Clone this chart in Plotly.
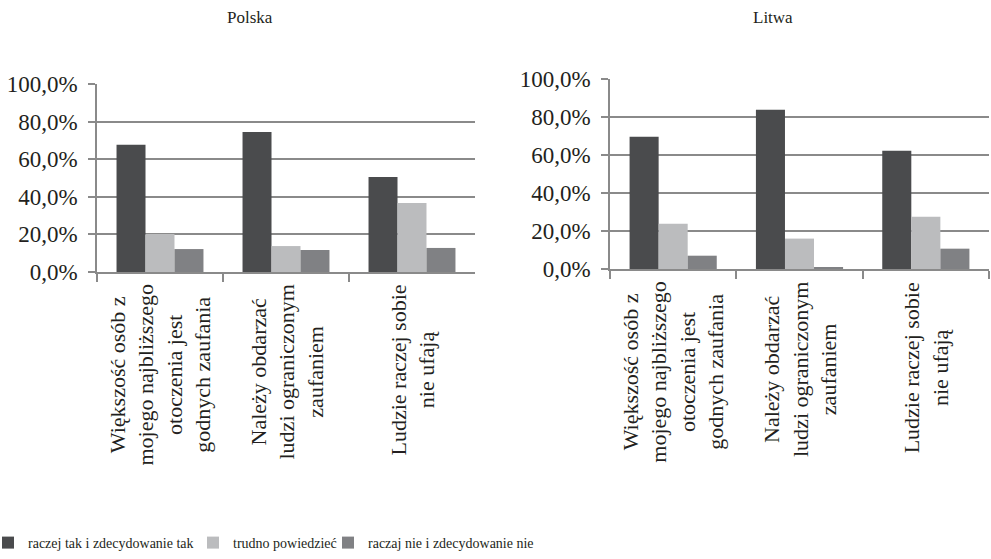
"""
Zaufanie do ludzi - Polska i Litwa
"""

import plotly.graph_objects as go

categories = [
    "Większość osób z<br>mojego najbliższego<br>otoczenia jest<br>godnych zaufania",
    "Należy obdarzać<br>ludzi ograniczonym<br>zaufaniem",
    "Ludzie raczej sobie<br>nie ufają",
]
series_names = [
    "raczej tak i zdecydowanie tak",
    "trudno powiedzieć",
    "raczaj nie i zdecydowanie nie",
]
colors = ["#4a4b4d", "#bbbcbe", "#808184"]

polska_tak = [0.677, 0.745, 0.505]
polska_trudno = [0.202, 0.138, 0.367]
polska_nie = [0.122, 0.117, 0.128]

litwa_tak = [0.696, 0.838, 0.623]
litwa_trudno = [0.238, 0.160, 0.275]
litwa_nie = [0.070, 0.007, 0.107]

W, H = 991, 559
FONT = "'Liberation Serif', 'Times New Roman', 'DejaVu Serif', serif"
TXT = "#231f20"

fig = go.Figure()

polska = [polska_tak, polska_trudno, polska_nie]
litwa = [litwa_tak, litwa_trudno, litwa_nie]
legends = ["legend", "legend2", "legend3"]

for i, name in enumerate(series_names):
    fig.add_trace(go.Bar(
        x=categories, y=polska[i], name=name, marker_color=colors[i],
        marker_line_width=0, xaxis="x", yaxis="y", legend=legends[i],
    ))
    fig.add_trace(go.Bar(
        x=categories, y=litwa[i], name=name, marker_color=colors[i],
        marker_line_width=0, xaxis="x2", yaxis="y2", showlegend=False,
    ))

xcommon = dict(
    type="category", showline=True, linecolor="#8a8a8a", linewidth=1.5,
    ticks="outside", tickson="boundaries", ticklen=8, tickcolor="#8a8a8a",
    tickwidth=1.5, showgrid=False, showticklabels=False,
)
ycommon = dict(
    range=[0, 1], dtick=0.2, tickformat=".1%", showline=True,
    linecolor="#8a8a8a", linewidth=1.5, ticks="outside", ticklen=7,
    tickcolor="#8a8a8a", tickwidth=1.5, showgrid=True, gridcolor="#8a8a8a",
    gridwidth=1.5, zeroline=False, ticklabelstandoff=6,
    tickfont=dict(family=FONT, size=23, color=TXT),
)

fig.update_layout(
    width=W, height=H,
    margin=dict(l=0, r=0, t=0, b=0, autoexpand=False),
    paper_bgcolor="white", plot_bgcolor="white",
    separators=", ",
    barmode="group", bargap=0.31, bargroupgap=0,
    font=dict(family=FONT, color=TXT),
    xaxis=dict(domain=[97 / W, 475 / W], anchor="y", **xcommon),
    yaxis=dict(domain=[1 - 272 / H, 1 - 84 / H], anchor="x", **ycommon),
    xaxis2=dict(domain=[610 / W, 989 / W], anchor="y2", **xcommon),
    yaxis2=dict(domain=[1 - 269 / H, 1 - 79 / H], anchor="x2", **ycommon),
)

# category labels: rotated, lines centred like in the original
for xref, top in [("x", 283), ("x2", 280)]:
    for cat in categories:
        fig.add_annotation(
            text=cat, x=cat, xref=xref, y=1 - top / H, yref="paper",
            yanchor="top", xanchor="center", textangle=-90, align="center",
            showarrow=False, font=dict(family=FONT, size=22, color=TXT),
        )

leg_style = dict(
    orientation="h", yanchor="middle", xanchor="left", y=1 - 543 / H,
    font=dict(family=FONT, size=14, color=TXT),
    bgcolor="rgba(0,0,0,0)", itemwidth=30,
)
fig.update_layout(
    legend=dict(x=-12 / W, **leg_style),
    legend2=dict(x=193 / W, **leg_style),
    legend3=dict(x=328 / W, **leg_style),
)

for title, xc in [("Polska", 250), ("Litwa", 773)]:
    fig.add_annotation(text=title, x=xc / W, y=1 - 18 / H, xref="paper", yref="paper",
                       xanchor="center", yanchor="middle", showarrow=False,
                       font=dict(family=FONT, size=17, color=TXT))

# drop the default 8px body margin so the figure sits at the page corner
fig.write_html("out.html", config={"displayModeBar": False},
               post_script="document.body.style.margin='0';")
